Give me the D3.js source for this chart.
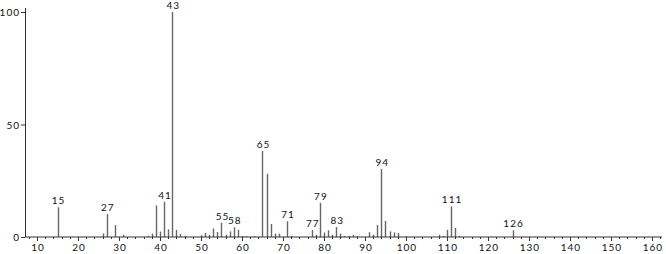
<!DOCTYPE html>
<html>
<head>
<meta charset="utf-8">
<script src="https://cdn.jsdelivr.net/npm/d3@7"></script>
<style>
  body { margin: 0; background: #fff; }
  svg text { font-family: "Lato", "DejaVu Sans", sans-serif; font-size: 10px; fill: #111; letter-spacing: 1px; }
</style>
</head>
<body>
<div id="chart"></div>
<script>
// m/z values and relative intensities (%)
var mz = [15, 26, 27, 29, 31, 37, 38, 39, 40, 41, 42, 43, 44, 45, 46,
          50, 51, 52, 53, 54, 55, 56, 57, 58, 59, 60, 61, 63,
          65, 66, 67, 68, 69, 71, 72, 77, 78, 79, 80, 81, 82, 83, 84, 85, 86, 87, 88,
          91, 92, 93, 94, 95, 96, 97, 98, 100, 108, 109, 110, 111, 112, 113, 126];
var intensity = [13.2, 1.6, 10.2, 5.3, 1.0, 0.5, 1.5, 14.0, 2.4, 15.7, 3.4, 100, 3.1, 1.3, 0.5,
                 0.8, 1.8, 1.0, 3.8, 2.2, 6.4, 1.0, 2.5, 4.3, 3.2, 0.5, 0.3, 0.4,
                 38.2, 28.1, 5.8, 1.5, 1.5, 7.0, 0.5, 3.1, 1.0, 15.2, 2.0, 3.0, 1.0, 4.4, 1.5, 0.5, 0.5, 1.0, 0.3,
                 2.1, 1.0, 5.3, 30.2, 7.1, 2.5, 2.0, 1.8, 0.3, 1.0, 0.5, 3.2, 13.6, 4.0, 0.5, 3.0];
// peaks that carry a label
var labelled = [15, 27, 41, 43, 55, 58, 65, 71, 77, 79, 83, 94, 111, 126];
var xTicks = [10, 20, 30, 40, 50, 60, 70, 80, 90, 100, 110, 120, 130, 140, 150, 160];
var yTicks = [0, 50, 100];

var width = 666, height = 254;

var peaks = mz.map(function(m, i){ return {mz: m, v: intensity[i]}; });

var svg = d3.select('#chart').append('svg')
    .attr('width', width)
    .attr('height', height);

var x = d3.scaleLinear().domain([7.07, 162.45]).range([25, 662]);
var y = d3.scaleLinear().domain([0, 100]).range([237, 12]);

// bars
svg.selectAll('.peak')
    .data(peaks)
    .enter().append('line')
    .attr('class', 'peak')
    .attr('x1', function(d){ return Math.round(x(d.mz)) + 0.5; })
    .attr('x2', function(d){ return Math.round(x(d.mz)) + 0.5; })
    .attr('y1', y(0))
    .attr('y2', function(d){ return y(d.v); })
    .attr('stroke', '#666')
    .attr('stroke-width', 1.4);

// peak labels
svg.selectAll('.plabel')
    .data(peaks.filter(function(d){ return labelled.indexOf(d.mz) >= 0; }))
    .enter().append('text')
    .attr('class', 'plabel')
    .attr('x', function(d){ return x(d.mz) + 1; })
    .attr('y', function(d){ return y(d.v) - 3; })
    .attr('text-anchor', 'middle')
    .text(function(d){ return d.mz; });

// x axis: minor ticks every 2, majors every 10
var minor = d3.range(8, 163, 2);
var xAxis = svg.append('g').attr('transform', 'translate(0,237)');
xAxis.append('line')
    .attr('x1', 25).attr('x2', 662)
    .attr('stroke', '#333');
xAxis.selectAll('.minor')
    .data(minor)
    .enter().append('line')
    .attr('x1', function(d){ return Math.round(x(d)) + 0.5; })
    .attr('x2', function(d){ return Math.round(x(d)) + 0.5; })
    .attr('y1', 0)
    .attr('y2', function(d){ return d % 10 === 0 ? 4 : 2; })
    .attr('stroke', '#333');
xAxis.selectAll('.xlab')
    .data(xTicks)
    .enter().append('text')
    .attr('x', function(d){ return x(d) + 1; })
    .attr('y', 14)
    .attr('text-anchor', 'middle')
    .text(function(d){ return d; });

// y axis
var yAxis = svg.append('g');
yAxis.append('line')
    .attr('x1', 25.5).attr('x2', 25.5)
    .attr('y1', 8).attr('y2', 237)
    .attr('stroke', '#333');
yAxis.selectAll('.ytick')
    .data(yTicks)
    .enter().append('line')
    .attr('x1', 21).attr('x2', 25)
    .attr('y1', function(d){ return y(d) + 0.5; })
    .attr('y2', function(d){ return y(d) + 0.5; })
    .attr('stroke', '#333');
yAxis.selectAll('.ylab')
    .data(yTicks)
    .enter().append('text')
    .attr('x', 20)
    .attr('y', function(d){ return y(d) + 4; })
    .attr('text-anchor', 'end')
    .text(function(d){ return d; });
</script>
</body>
</html>
